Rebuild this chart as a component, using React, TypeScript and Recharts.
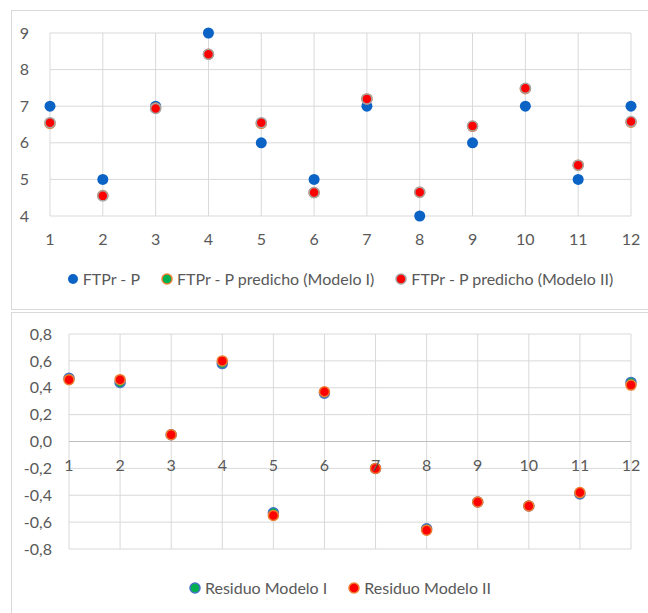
import { ScatterChart, Scatter, XAxis, YAxis, CartesianGrid, ReferenceLine } from 'recharts'

const periods = [1, 2, 3, 4, 5, 6, 7, 8, 9, 10, 11, 12]
const ftprP = [7, 5, 7, 9, 6, 5, 7, 4, 6, 7, 5, 7]
const predModeloI = [6.53, 4.56, 6.95, 8.42, 6.53, 4.64, 7.2, 4.65, 6.45, 7.48, 5.39, 6.56]
const predModeloII = [6.55, 4.55, 6.94, 8.42, 6.55, 4.64, 7.2, 4.65, 6.46, 7.49, 5.39, 6.58]
const residModeloI = [0.47, 0.44, 0.05, 0.58, -0.53, 0.36, -0.2, -0.65, -0.45, -0.48, -0.39, 0.44]
const residModeloII = [0.46, 0.46, 0.05, 0.6, -0.55, 0.37, -0.2, -0.66, -0.45, -0.48, -0.38, 0.42]
const topTicks = [4, 5, 6, 7, 8, 9]
const bottomTicks = [-0.8, -0.6, -0.4, -0.2, 0, 0.2, 0.4, 0.6, 0.8]

const FONT = 'Lato, "Liberation Sans", sans-serif'
const TEXT = '#595959'
const GRID = '#D9D9D9'

const toPoints = (ys: number[]) => periods.map((x, i) => ({ x, y: ys[i] }))

const dot = (fill: string, stroke: string, r: number) => (props: any) => (
  <circle cx={props.cx} cy={props.cy} r={r} fill={fill} stroke={stroke} strokeWidth={stroke === 'none' ? 0 : 1.5} />
)

const topSeries = [
  { name: 'FTPr - P', data: ftprP, fill: '#0B63C5', stroke: 'none', r: 5.5 },
  { name: 'FTPr - P predicho (Modelo I)', data: predModeloI, fill: '#00B050', stroke: '#ED7D31', r: 5 },
  { name: 'FTPr - P predicho (Modelo II)', data: predModeloII, fill: '#FF0000', stroke: '#A5A5A5', r: 5 },
]

const bottomSeries = [
  { name: 'Residuo Modelo I', data: residModeloI, fill: '#00B050', stroke: '#4472C4', r: 5 },
  { name: 'Residuo Modelo II', data: residModeloII, fill: '#FF0000', stroke: '#ED7D31', r: 5 },
]

type Item = { name: string; fill: string; stroke: string }

function LegendRow({ items, top }: { items: Item[]; top: number }) {
  return (
    <div
      style={{
        position: 'absolute', top, left: 40, width: 600, display: 'flex', justifyContent: 'center',
        alignItems: 'center', gap: 21, fontFamily: FONT, fontSize: 16, color: TEXT, whiteSpace: 'nowrap',
      }}
    >
      {items.map(s => (
        <span key={s.name} style={{ display: 'flex', alignItems: 'center', gap: 4 }}>
          <svg width={12} height={12}>
            <circle cx={6} cy={6} r={5} fill={s.fill} stroke={s.stroke} strokeWidth={s.stroke === 'none' ? 0 : 1.5} />
          </svg>
          {s.name}
        </span>
      ))}
    </div>
  )
}

const tickStyle = { fill: TEXT, fontSize: 16, fontFamily: FONT }
const BOTTOM_PLOT_H = 215
const zeroShift = BOTTOM_PLOT_H * (0 - bottomTicks[0]) / (bottomTicks[bottomTicks.length - 1] - bottomTicks[0])

const ZeroTick = (props: any) => (
  <text x={props.x} y={props.y - zeroShift} dy="0.71em" textAnchor="middle" {...tickStyle}>
    {props.payload.value}
  </text>
)

export default function App() {
  return (
    <div style={{ position: 'absolute', left: 0, top: 0, width: 648, height: 613, overflow: 'hidden', background: '#fff' }}>
      <div style={{ position: 'absolute', left: 11, top: 10, width: 700, height: 298, border: `1px solid ${GRID}` }} />
      <div style={{ position: 'absolute', left: 11, top: 312, width: 700, height: 400, border: `1px solid ${GRID}` }} />

      <div style={{ position: 'absolute', left: 0, top: 0 }}>
        <ScatterChart width={648} height={310} margin={{ top: 33, right: 17, bottom: 64, left: 0 }}>
          <CartesianGrid stroke={GRID} />
          <XAxis type="number" dataKey="x" domain={[1, 12]} ticks={periods} axisLine={false} tickLine={false}
            tickSize={0} tickMargin={18} height={30} tick={tickStyle} interval={0} />
          <YAxis type="number" dataKey="y" domain={[4, 9]} ticks={topTicks} axisLine={false} tickLine={false}
            tickSize={0} tickMargin={21} width={50} tick={tickStyle} interval={0} />
          {topSeries.map(s => (
            <Scatter key={s.name} name={s.name} data={toPoints(s.data)} shape={dot(s.fill, s.stroke, s.r)} isAnimationActive={false} />
          ))}
        </ScatterChart>
      </div>
      <LegendRow items={topSeries} top={269} />

      <div style={{ position: 'absolute', left: 0, top: 300 }}>
        <ScatterChart width={648} height={313} margin={{ top: 34, right: 17, bottom: 34, left: 0 }}>
          <CartesianGrid stroke={GRID} />
          <XAxis type="number" dataKey="x" domain={[1, 12]} ticks={periods} axisLine={false} tickLine={false}
            tickSize={0} tickMargin={18} height={30} tick={<ZeroTick />} interval={0} />
          <YAxis type="number" dataKey="y" domain={[-0.8, 0.8]} ticks={bottomTicks} axisLine={false} tickLine={false}
            tickSize={0} tickMargin={17} width={69} tick={tickStyle} interval={0}
            tickFormatter={(v: number) => v.toFixed(1).replace('.', ',')} />
          <ReferenceLine y={0} stroke="#BFBFBF" />
          {bottomSeries.map(s => (
            <Scatter key={s.name} name={s.name} data={toPoints(s.data)} shape={dot(s.fill, s.stroke, s.r)} isAnimationActive={false} />
          ))}
        </ScatterChart>
      </div>
      <LegendRow items={bottomSeries} top={578} />
    </div>
  )
}
